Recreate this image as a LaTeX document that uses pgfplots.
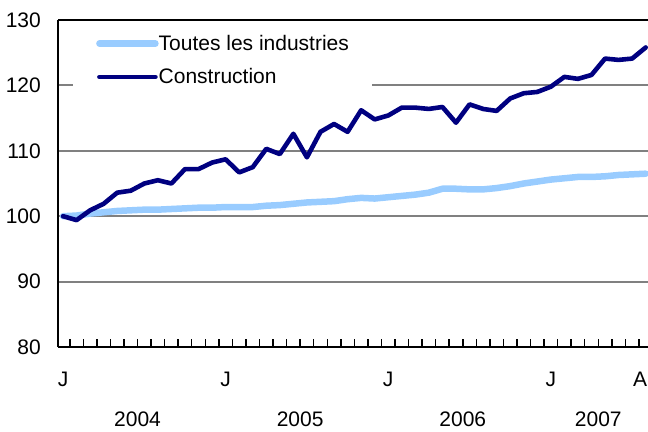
\documentclass[border=0pt]{standalone}
\usepackage{fontspec}
\setmainfont{Liberation Sans}
\usepackage{pgfplots}
\usepackage{pgfplotstable}
\pgfplotsset{compat=1.18}
\definecolor{navyc}{RGB}{0,0,128}
\definecolor{lightc}{RGB}{153,204,255}
\definecolor{gridc}{RGB}{128,128,128}
\newcommand{\cf}{\fontsize{21bp}{25bp}\selectfont}

\pgfplotstableread{
i toutes construction
0 100.0 100.0
1 100.1 99.4
2 100.4 100.9
3 100.6 101.9
4 100.8 103.6
5 100.9 103.9
6 101.0 105.0
7 101.0 105.5
8 101.1 105.0
9 101.2 107.2
10 101.3 107.2
11 101.3 108.2
12 101.4 108.7
13 101.4 106.7
14 101.4 107.5
15 101.6 110.3
16 101.7 109.5
17 101.9 112.6
18 102.1 109.0
19 102.2 112.9
20 102.3 114.1
21 102.6 112.9
22 102.8 116.2
23 102.7 114.8
24 102.9 115.4
25 103.1 116.6
26 103.3 116.6
27 103.6 116.4
28 104.2 116.7
29 104.2 114.3
30 104.1 117.1
31 104.1 116.4
32 104.3 116.1
33 104.6 118.0
34 105.0 118.8
35 105.3 119.0
36 105.6 119.8
37 105.8 121.3
38 106.0 121.0
39 106.0 121.6
40 106.1 124.1
41 106.3 123.9
42 106.4 124.1
43 106.5 125.8
}\datatable

\begin{document}
\begin{tikzpicture}
\begin{axis}[
  at={(0,0)}, anchor=south west,
  width=590bp, height=327bp, scale only axis,
  xmin=-0.37, xmax=43.17, ymin=80, ymax=130,
  axis y line*=left,
  axis line style={black, line width=2.2bp},
  ytick={80,90,...,130},
  ymajorgrids,
  major grid style={gridc, line width=2bp},
  major tick length=0pt,
  minor tick length=8bp,
  tick align=inside,
  yticklabel style={font=\cf, inner xsep=0pt, xshift=-17bp},
  /pgf/number format/assume math mode=true,
  xtick={0,12,24,36,43},
  xticklabels={J,J,J,J,{\hbox to 0pt{\hss A\kern-1.5bp}}},
  xtick pos=left,
  minor xtick={0.5,1.5,...,42.5},
  minor x tick style={black, line width=1.5bp},
  xticklabel style={font=\cf, inner sep=0pt, yshift=-25bp},
  extra x ticks={5.5,17.5,29.5,39.5},
  extra x tick labels={2004,2005,2006,2007},
  extra x tick style={xticklabel style={yshift=-40bp}},
  legend style={at={(rel axis cs:0.0254,0.9939)}, anchor=north west,
    draw=none, fill=white, inner xsep=23bp, inner ysep=13bp,
    font=\cf, nodes={inner sep=0pt}, row sep=16.7bp,
    /tikz/every even column/.append style={column sep=4bp}},
  legend cell align=left,
  legend image code/.code={\draw[#1] (0bp,0bp) -- (56bp,0bp);},
]
\addplot[lightc, line width=6.5bp, line cap=round, line join=round] table[x=i, y=toutes] {\datatable};
\addlegendentry{Toutes les industries}
\addplot[navyc, line width=4.6bp, line cap=round, line join=round] table[x=i, y=construction] {\datatable};
\addlegendentry{Construction}
\end{axis}
\pgfresetboundingbox
\path[use as bounding box] (-58bp,-85bp) rectangle (590bp,347bp);
\end{tikzpicture}
\end{document}
